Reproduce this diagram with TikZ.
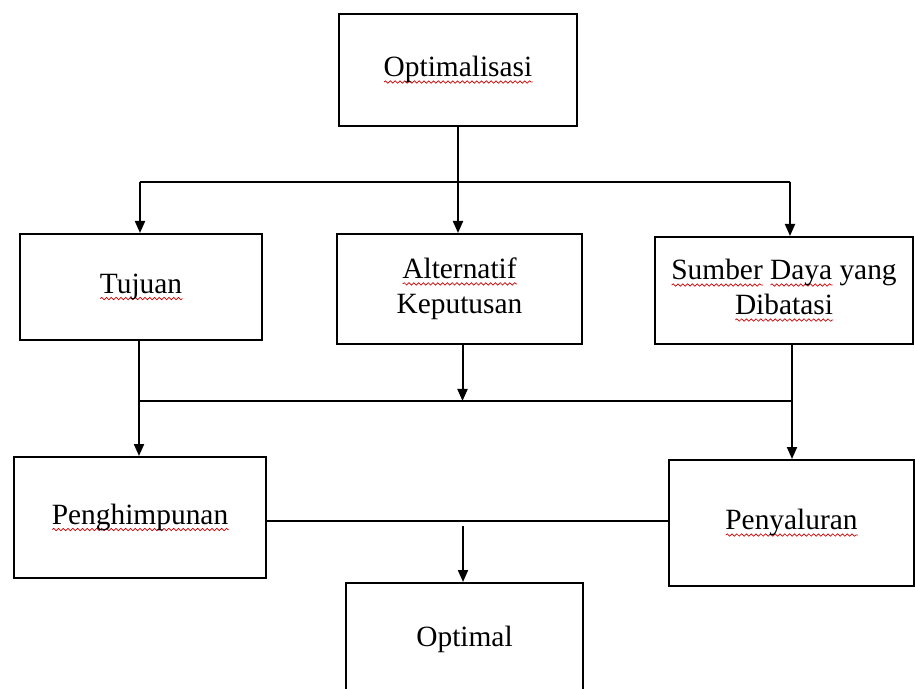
\documentclass[tikz,border=0pt]{standalone}
\usepackage{fontspec}
\setmainfont{Liberation Serif}
\usetikzlibrary{arrows.meta,decorations.pathmorphing}

% red spell-check wave under a word
\newcommand\spellwave[1]{\setbox0\hbox{#1}\leavevmode\rlap{\tikz[baseline=0pt]\draw[red!80!black, line width=0.35pt,
    decorate, decoration={snake, amplitude=0.6pt, segment length=2.4pt}] (0pt,-2.6pt) -- (\the\wd0,-2.6pt);}\box0\relax}

\tikzset{
  flowbox/.style={draw, line width=1pt, rectangle, inner sep=0pt, align=center,
    font=\fontsize{14.7}{17.5}\selectfont},
  flowline/.style={line width=1pt},
  flowarrow/.style={flowline, -{Triangle[length=6pt,width=5pt]}}
}

\begin{document}
\begin{tikzpicture}[x=0.5pt,y=-0.5pt]
		\useasboundingbox (0,0) rectangle (915,689);
		\clip (0,0) rectangle (915,689);
		% boxes
		\node[flowbox, minimum width=119pt, minimum height=56pt] (optimasi) at (458,70) {\spellwave{Optimalisasi}};
		\node[flowbox, minimum width=121pt, minimum height=53pt] (tujuan) at (141,287) {\spellwave{Tujuan}};
		\node[flowbox, minimum width=122.5pt, minimum height=55pt] (alternatif) at (459.5,289) {\spellwave{Alternatif}\\Keputusan};
		\node[flowbox, minimum width=129pt, minimum height=53.5pt] (sumber) at (784,290.5) {\spellwave{Sumber} \spellwave{Daya} yang\\\spellwave{Dibatasi}};
		\node[flowbox, minimum width=126pt, minimum height=60.5pt] (penghimpunan) at (140,517.5) {\spellwave{Penghimpunan}};
		\node[flowbox, minimum width=122.5pt, minimum height=63pt] (penyaluran) at (791.5,523) {\spellwave{Penyaluran}};
		\node[flowbox, minimum width=118.5pt, minimum height=56pt] (optimal) at (464.5,639) {Optimal};
		% split points
		\coordinate (topL) at (140,182);
		\coordinate (topR) at (790,182);
		\coordinate (midL) at (139,401);
		\coordinate (midR) at (792,401);
		\coordinate (botmid) at (463,521);
		\coordinate (botarr) at (463,526);
		% connectors
		\draw[flowarrow] (optimasi.south) -- (optimasi.south |- alternatif.north);
		\draw[flowline] (topL) -- (topR);
		\draw[flowarrow] (topL) -- (topL |- tujuan.north);
		\draw[flowarrow] (topR) -- (topR |- sumber.north);
		\draw[flowarrow] (tujuan.south -| midL) -- (midL |- penghimpunan.north);
		\draw[flowarrow] (sumber.south -| midR) -- (midR |- penyaluran.north);
		\draw[flowline] (midL) -- (midR);
		\draw[flowarrow] ([xshift=1.5pt]alternatif.south) -- ([xshift=1.5pt]alternatif.south |- midL);
		\draw[flowline] (botmid -| penghimpunan.east) -- (botmid -| penyaluran.west);
		\draw[flowarrow] (botarr) -- (botarr |- optimal.north);
	\end{tikzpicture}
\end{document}
